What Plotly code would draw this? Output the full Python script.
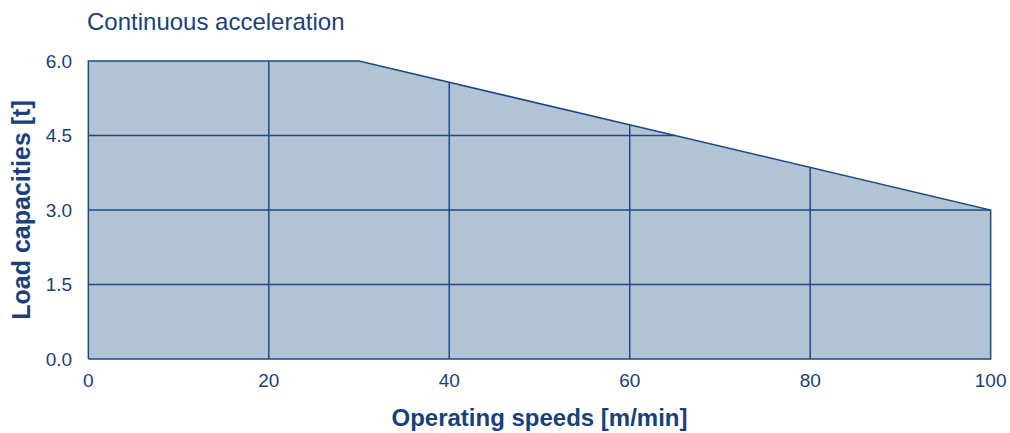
import numpy as np
import plotly.graph_objects as go

# Data: load capacity boundary (speed m/min -> load t)
speeds = [0, 30, 100]
loads = [6.0, 6.0, 3.0]
x_ticks = [0, 20, 40, 60, 80, 100]
y_ticks = [0.0, 1.5, 3.0, 4.5, 6.0]
x_grid = [20, 40, 60, 80]
y_grid = [1.5, 3.0, 4.5]

title_text = "Continuous acceleration"
x_title = "Operating speeds [m/min]"
y_title = "Load capacities [t]"

FILL = "#b2c3d5"
LINE = "#1d4a85"
TEXT = "#1b3f7a"
FONT = "Liberation Sans, Arial, sans-serif"

W, H = 1010, 433

fig = go.Figure()

# Filled region (closed polygon)
px = [speeds[0]] + speeds + [speeds[-1], speeds[0]]
py = [0] + loads + [0, 0]
fig.add_trace(go.Scatter(x=px, y=py, mode="lines", fill="toself",
                         fillcolor=FILL, line=dict(color=LINE, width=1.5),
                         hoverinfo="skip", showlegend=False))

# Grid lines clipped to the region
gx, gy = [], []
for xv in x_grid:
    top = float(np.interp(xv, speeds, loads))
    gx += [xv, xv, None]
    gy += [0, top, None]
for yv in y_grid:
    if yv <= loads[-1]:
        right = speeds[-1]
    else:
        right = float(np.interp(yv, loads[::-1][:2], speeds[::-1][:2]))
    gx += [0, right, None]
    gy += [yv, yv, None]
fig.add_trace(go.Scatter(x=gx, y=gy, mode="lines",
                         line=dict(color=LINE, width=1.5),
                         hoverinfo="skip", showlegend=False))

fig.update_layout(
    width=W, height=H,
    margin=dict(l=87, r=18, t=60, b=73),
    paper_bgcolor="white", plot_bgcolor="white",
    font=dict(family=FONT, color=TEXT, size=19),
    title=dict(text=title_text, x=87 / W, xanchor="left", xref="container",
               y=1 - 22 / H, yanchor="middle", yref="container",
               font=dict(family=FONT, size=24, color=TEXT)),
    showlegend=False,
)
fig.update_xaxes(range=[-0.15, 100.15], tickvals=x_ticks,
                 ticktext=[str(v) for v in x_ticks], automargin=False,
                 showgrid=False, zeroline=False, showline=False,
                 ticks="outside", ticklen=3, tickcolor="rgba(0,0,0,0)",
                 title=dict(text="<b>" + x_title + "</b>", standoff=19,
                            font=dict(family=FONT, size=24, color=TEXT)))
fig.update_yaxes(range=[-0.02, 6.02], tickvals=y_ticks,
                 ticktext=[f"{v:.1f}" for v in y_ticks], automargin=False,
                 showgrid=False, zeroline=False, showline=False,
                 ticks="outside", ticklen=10, tickcolor="rgba(0,0,0,0)",
                 title=dict(text="<b>" + y_title + "</b>", standoff=8,
                            font=dict(family=FONT, size=25, color=TEXT)))

fig.write_html("out.html",
               config={"displayModeBar": False},
               post_script="document.body.style.margin='0';"
                           "document.body.style.overflow='hidden';")
